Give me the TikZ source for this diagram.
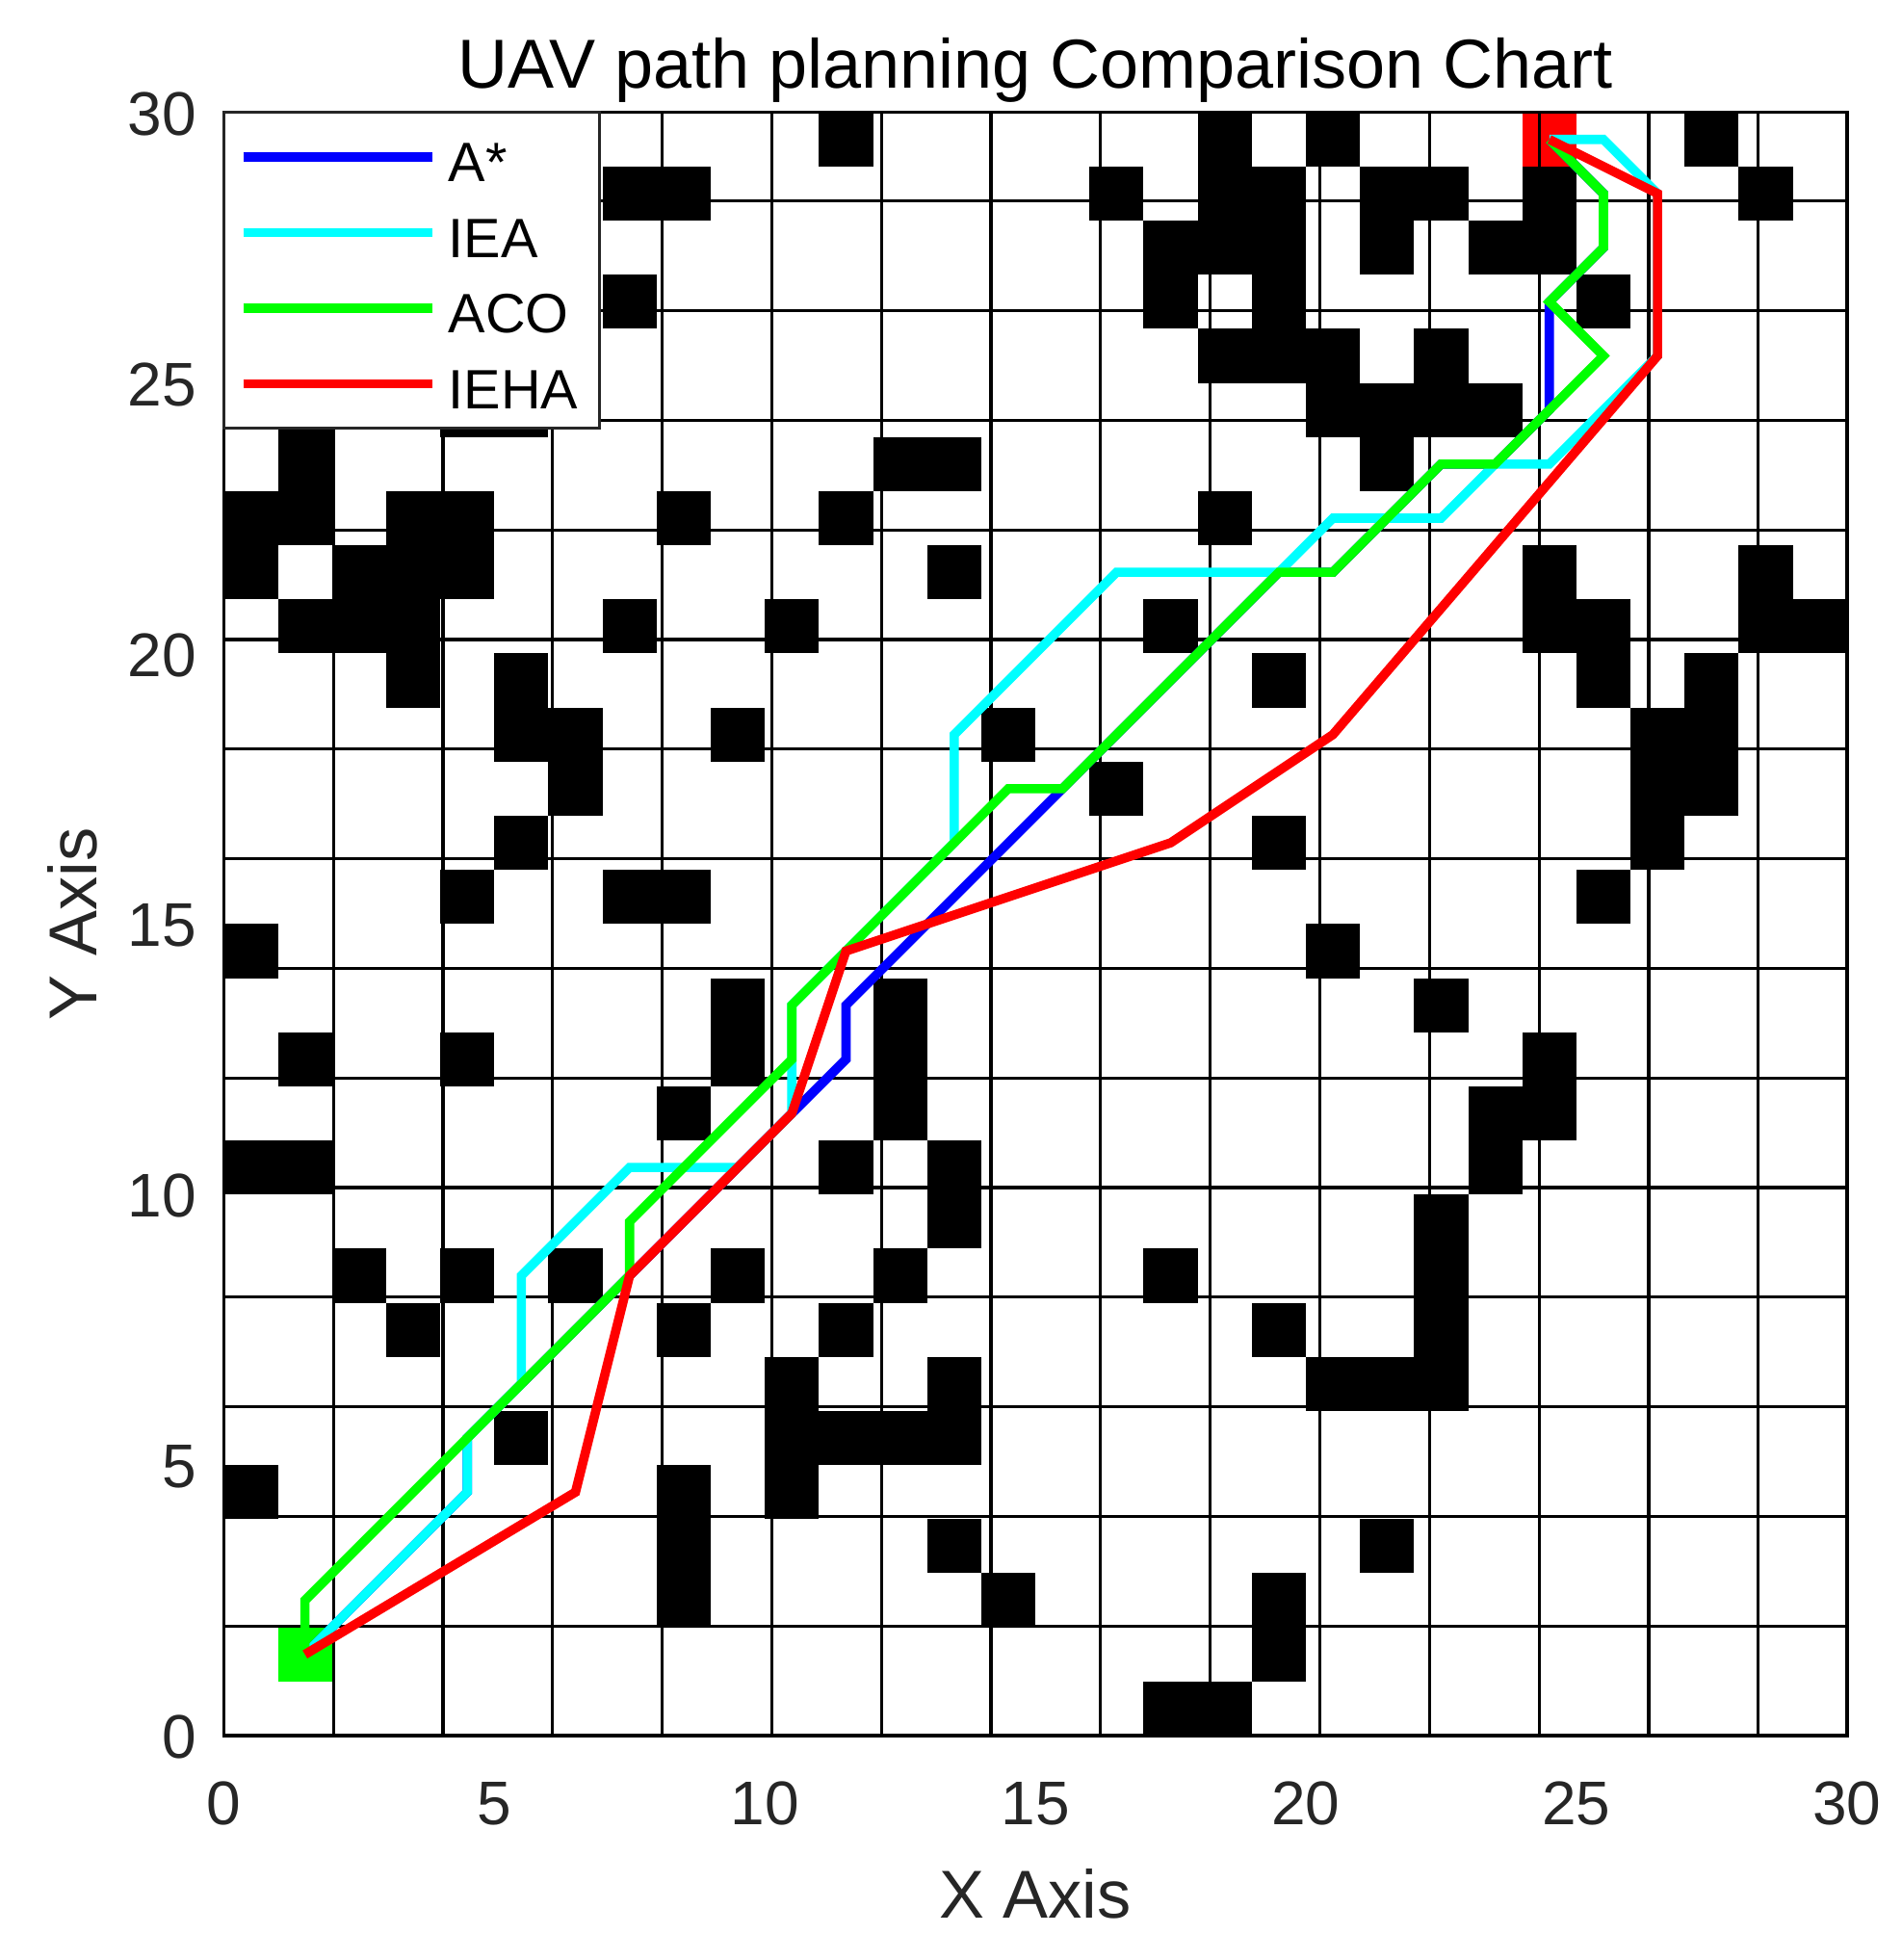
\documentclass[tikz,border=0pt]{standalone}
\usepackage{fontspec}
\setmainfont{Liberation Sans}
\definecolor{mblue}{rgb}{0,0,1}
\definecolor{mcyan}{rgb}{0,1,1}
\definecolor{mgreen}{rgb}{0,1,0}
\definecolor{mred}{rgb}{1,0,0}
\begin{document}
\begin{tikzpicture}[x=14.045pt,y=14.045pt,
  cellbox/.style={fill=black},
  gridline/.style={line width=0.8pt, draw=black},
  pathline/.style={line width=2.4pt, line join=miter},
  ticklab/.style={font=\fontsize{16}{19}\selectfont, inner sep=0pt, text=black!85},
  axlab/.style={font=\fontsize{17.6}{21}\selectfont, inner sep=0pt, text=black!85},
  titlelab/.style={font=\fontsize{18}{22}\selectfont, inner sep=0pt, text=black},
  leglab/.style={font=\fontsize{14.4}{17}\selectfont, inner sep=0pt, anchor=base west, text=black}]
\useasboundingbox[fill=white] (-4.137,-4.147) rectangle (31.006,32.077);
% obstacles
\foreach \r/\cs in {29/{11,18,20,27},28/{7,8,16,18,19,21,22,24,28},27/{17,18,19,21,23,24},26/{7,17,19,25},25/{18,19,20,22},24/{1,4,5,20,21,22,23},23/{1,12,13,21},22/{0,1,3,4,8,11,18},21/{0,2,3,4,13,24,28},20/{1,2,3,7,10,17,24,25,28,29},19/{3,5,19,25,27},18/{5,6,9,14,26,27},17/{6,16,26,27},16/{5,19,26},15/{4,7,8,25},14/{0,20},13/{9,12,22},12/{1,4,9,12,24},11/{8,12,23,24},10/{0,1,11,13,23},9/{13,22},8/{2,4,6,9,12,17,22},7/{3,8,11,19,22},6/{10,13,20,21,22},5/{5,10,11,12,13},4/{0,8,10},3/{8,13,21},2/{8,14,19},1/{19},0/{17,18}}{
  \foreach \c in \cs {\fill[cellbox] (\c,\r) rectangle ++(1,1);}
}
% start and goal
\fill[mgreen] (1,1) rectangle (2,2);
\fill[mred] (24,29) rectangle (25,30);
% grid
\draw[gridline] (0,0) grid (30,30);
% paths
\draw[pathline, mblue] (1.5,1.5) -- (4.5,4.5) -- (4.5,5.5) -- (7.5,8.5) -- (10.5,11.5) -- (11.5,12.5) -- (11.5,13.5) -- (15.5,17.5) -- (19.5,21.5) -- (20.5,21.5) -- (22.5,23.5) -- (23.5,23.5) -- (24.5,24.5) -- (24.5,26.5) -- (25.5,27.5) -- (25.5,28.5) -- (24.5,29.5);
\draw[pathline, mcyan] (1.5,1.5) -- (4.5,4.5) -- (4.5,5.5) -- (5.5,6.5) -- (5.5,8.5) -- (7.5,10.5) -- (9.5,10.5) -- (10.5,11.5) -- (10.5,12.5) -- (10.5,13.5) -- (13.5,16.5) -- (13.5,18.5) -- (16.5,21.5) -- (19.5,21.5) -- (20.5,22.5) -- (22.5,22.5) -- (23.5,23.5) -- (24.5,23.5) -- (26.5,25.5) -- (26.5,28.5) -- (25.5,29.5) -- (24.5,29.5);
\draw[pathline, mgreen] (1.5,1.5) -- (1.5,2.5) -- (7.5,8.5) -- (7.5,9.5) -- (10.5,12.5) -- (10.5,13.5) -- (14.5,17.5) -- (15.5,17.5) -- (19.5,21.5) -- (20.5,21.5) -- (22.5,23.5) -- (23.5,23.5) -- (25.5,25.5) -- (24.5,26.5) -- (25.5,27.5) -- (25.5,28.5) -- (24.5,29.5);
\draw[pathline, mred] (1.5,1.5) -- (6.5,4.5) -- (7.5,8.5) -- (10.5,11.5) -- (11.5,14.5) -- (17.5,16.5) -- (20.5,18.5) -- (26.5,25.5) -- (26.5,28.5) -- (24.5,29.5);
% axes box
\draw[line width=0.9pt] (0,0) rectangle (30,30);
% legend
\draw[fill=white, draw=black!85, line width=0.7pt] (0,24.17) rectangle (6.95,30);
\draw[pathline, mblue] (0.36,29.18) -- (3.85,29.18);
\draw[pathline, mcyan] (0.36,27.78) -- (3.85,27.78);
\draw[pathline, mgreen] (0.36,26.38) -- (3.85,26.38);
\draw[pathline, mred] (0.36,24.98) -- (3.85,24.98);
\node[leglab] (lgA) at (4.14,28.72) {A*};
\node[leglab] (lgB) at (4.14,27.32) {IEA};
\node[leglab] (lgC) at (4.14,25.92) {ACO};
\node[leglab] (lgD) at (4.14,24.52) {IEHA};
% ticks
\foreach \v in {0,5,10,15,20,25,30}{
  \node[ticklab, anchor=base] (xt\v) at (\v,-1.64) {\v};
  \node[ticklab, anchor=base east] (yt\v) at (-0.49,{\v-0.42}) {\v};
}
% labels
\node[titlelab, anchor=base] (title) at (15,30.45) {UAV path planning Comparison Chart};
\node[axlab, anchor=base] (xlab) at (15,-3.38) {X Axis};
\node[axlab, anchor=base, rotate=90] (ylab) at (-2.34,15) {Y Axis};
\end{tikzpicture}
\end{document}
